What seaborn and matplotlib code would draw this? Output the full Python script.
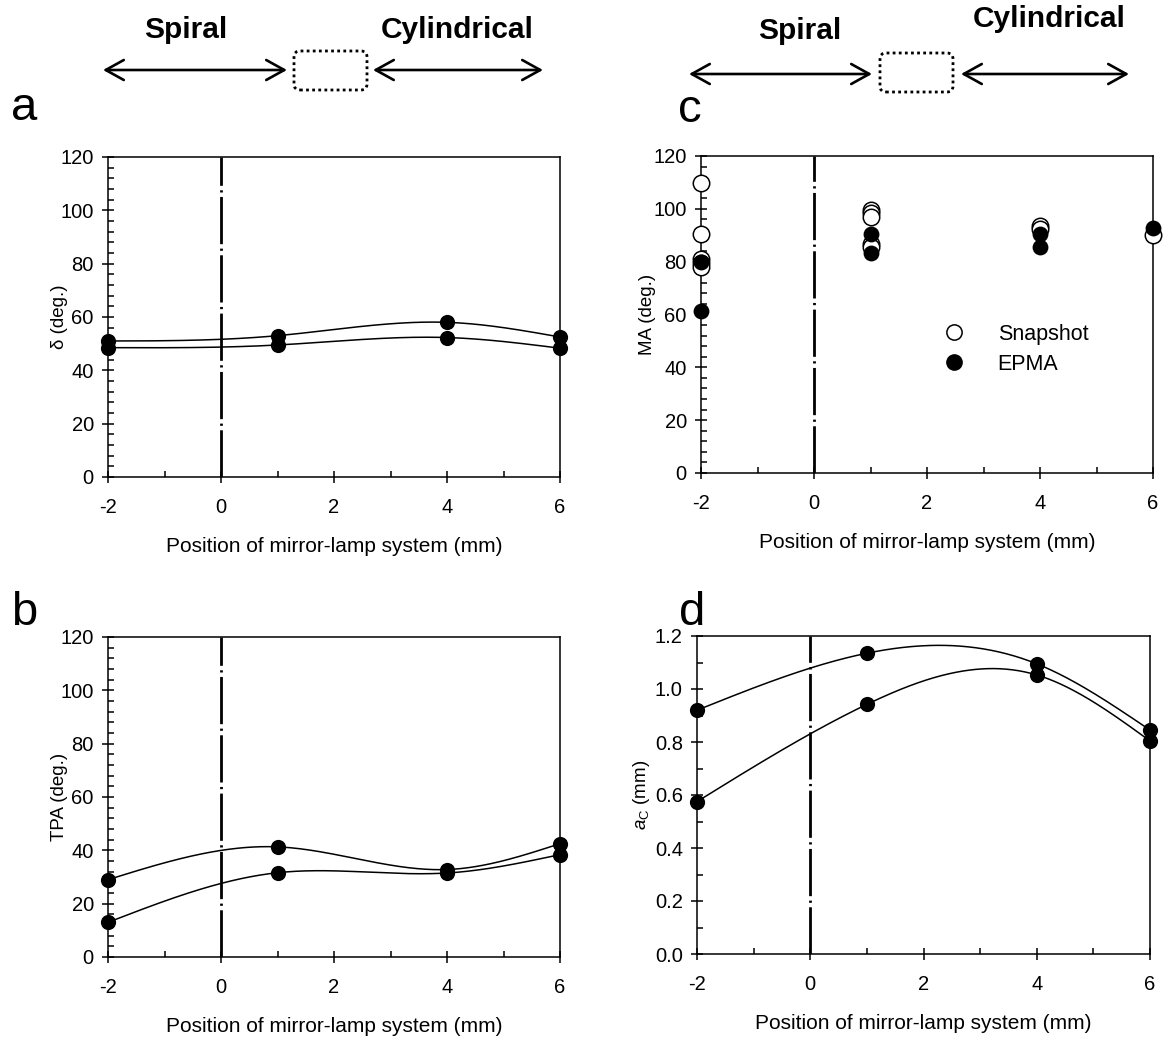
import numpy as np
import pandas as pd
import matplotlib
matplotlib.use("Agg")
import matplotlib.pyplot as plt
import seaborn as sns
from matplotlib.patches import FancyArrowPatch, FancyBboxPatch
from matplotlib.ticker import MultipleLocator
from matplotlib.lines import Line2D

# ---------------- data ----------------
positions = [-2, 1, 4, 6]
delta_upper = [51.0, 53.0, 58.0, 52.5]
delta_lower = [48.5, 49.5, 52.3, 48.3]
tpa_upper = [29.0, 41.3, 32.8, 42.5]
tpa_lower = [13.0, 31.6, 31.5, 38.4]
ac_upper = [0.92, 1.135, 1.095, 0.845]
ac_lower = [0.575, 0.942, 1.053, 0.804]

ma_snap_x = [-2, -2, -2, -2, -2, 1, 1, 1, 1, 1, 4, 4, 6]
ma_snap_y = [109.8, 90.5, 81.0, 79.5, 77.8, 99.5, 98.3, 96.8, 86.8, 85.6, 93.6, 92.2, 90.2]
ma_epma_x = [-2, -2, 1, 1, 4, 4, 6]
ma_epma_y = [79.8, 61.2, 90.4, 83.4, 90.4, 85.5, 92.6]

xlabel = "Position of mirror-lamp system (mm)"
header_left = "Spiral"
header_right = "Cylindrical"

# ---------------- style ----------------
sns.set_style("ticks")
plt.rcParams["font.family"] = ["Liberation Sans", "DejaVu Sans"]
plt.rcParams["mathtext.fontset"] = "custom"
plt.rcParams["mathtext.rm"] = "Liberation Sans"
plt.rcParams["mathtext.it"] = "Liberation Sans:italic"
plt.rcParams["axes.linewidth"] = 1.1
plt.rcParams["axes.edgecolor"] = "black"
plt.rcParams["axes.unicode_minus"] = False
for k in ("text.color", "axes.labelcolor", "xtick.color", "ytick.color"):
    plt.rcParams[k] = "black"

W, H = 1165, 1040
fig = plt.figure(figsize=(W / 100, H / 100), dpi=100)


def natural_spline(x, y, xs):
    x = np.asarray(x, float)
    y = np.asarray(y, float)
    n = len(x)
    h = np.diff(x)
    A = np.zeros((n, n))
    b = np.zeros(n)
    A[0, 0] = 1
    A[-1, -1] = 1
    for i in range(1, n - 1):
        A[i, i - 1] = h[i - 1]
        A[i, i] = 2 * (h[i - 1] + h[i])
        A[i, i + 1] = h[i]
        b[i] = 6 * ((y[i + 1] - y[i]) / h[i] - (y[i] - y[i - 1]) / h[i - 1])
    M = np.linalg.solve(A, b)
    out = np.empty_like(xs)
    for k, xv in enumerate(xs):
        i = min(np.searchsorted(x, xv, side="right") - 1, n - 2)
        i = max(i, 0)
        t1 = x[i + 1] - xv
        t0 = xv - x[i]
        out[k] = (M[i] * t1 ** 3 + M[i + 1] * t0 ** 3) / (6 * h[i]) \
            + (y[i] / h[i] - M[i] * h[i] / 6) * t1 \
            + (y[i + 1] / h[i] - M[i + 1] * h[i] / 6) * t0
    return out


def ax_px(l, t, r, b):
    return fig.add_axes([l / W, 1 - b / H, (r - l) / W, (b - t) / H])


def style_axis(ax, ymax, ymajor, yminor, fmt=None):
    ax.set_xlim(-2, 6)
    ax.set_ylim(0, ymax)
    ax.xaxis.set_major_locator(MultipleLocator(2))
    ax.xaxis.set_minor_locator(MultipleLocator(1))
    ax.yaxis.set_major_locator(MultipleLocator(ymajor))
    ax.yaxis.set_minor_locator(MultipleLocator(yminor))
    ax.tick_params(which="major", direction="inout", length=8.5, width=1.1,
                   labelsize=14.5, color="black", labelcolor="black")
    ax.tick_params(axis="x", which="major", pad=11)
    ax.tick_params(axis="y", which="major", pad=6)
    ax.tick_params(which="minor", direction="in", length=4, width=1.1, color="black")
    if fmt:
        ax.yaxis.set_major_formatter(matplotlib.ticker.FormatStrFormatter(fmt))
    for s in ax.spines.values():
        s.set_visible(True)
        s.set_linewidth(1.1)
        s.set_color("black")
    ax.axvline(0, color="black", lw=2.0, linestyle=(0, (17, 1.6, 0.8, 1.6)), zorder=1)
    ax.set_xlabel(xlabel, fontsize=15, labelpad=14, color="black")


def curves(ax, ys_list):
    xs = np.linspace(-2, 6, 300)
    for ys in ys_list:
        df = pd.DataFrame({"x": xs, "y": natural_spline(positions, ys, xs)})
        sns.lineplot(data=df, x="x", y="y", ax=ax, color="black", lw=1.1,
                     estimator=None, sort=False, zorder=2)
        sns.scatterplot(x=positions, y=ys, ax=ax, color="black", s=120,
                        edgecolor="black", linewidth=0, zorder=4, clip_on=False)


# panel a
ax_a = ax_px(108, 157, 560, 477)
curves(ax_a, [delta_upper, delta_lower])
style_axis(ax_a, 120, 20, 4)
ax_a.set_ylabel("δ (deg.)", fontsize=13.5)
ax_a.yaxis.set_label_coords(-0.088, 0.5)

# panel b
ax_b = ax_px(108, 637, 560, 957)
curves(ax_b, [tpa_upper, tpa_lower])
style_axis(ax_b, 120, 20, 4)
ax_b.set_ylabel("TPA (deg.)", fontsize=13.5)
ax_b.yaxis.set_label_coords(-0.088, 0.5)

# panel c
ax_c = ax_px(701, 156, 1153, 473)
sns.scatterplot(x=ma_snap_x, y=ma_snap_y, ax=ax_c, color="white", s=140,
                edgecolor="black", linewidth=1.1, zorder=3, clip_on=False)
sns.scatterplot(x=ma_epma_x, y=ma_epma_y, ax=ax_c, color="black", s=130,
                edgecolor="black", linewidth=0, zorder=4, clip_on=False)
style_axis(ax_c, 120, 20, 4)
ax_c.set_ylabel("MA (deg.)", fontsize=13.5)
ax_c.yaxis.set_label_coords(-0.099, 0.5)
handles = [Line2D([], [], ls="none", marker="o", ms=11, mfc="white", mec="black", mew=1.1),
           Line2D([], [], ls="none", marker="o", ms=11, mfc="black", mec="black")]
ax_c.legend(handles, ["Snapshot", "EPMA"], loc="upper left",
            bbox_to_anchor=(0.535, 0.47), frameon=False, fontsize=15.5,
            handlelength=1.0, handletextpad=1.55, labelspacing=0.4,
            borderpad=0, borderaxespad=0)

# panel d
ax_d = ax_px(697, 636, 1150, 954)
curves(ax_d, [ac_upper, ac_lower])
style_axis(ax_d, 1.2, 0.2, 0.1, fmt="%.1f")
ax_d.set_ylabel(r"$a_{\mathrm{C}}$ (mm)", fontsize=13.5)
ax_d.yaxis.set_label_coords(-0.1, 0.5)

# panel letters
for letter, (x, y) in {"a": (24, 108), "b": (24, 613), "c": (690, 110), "d": (692, 613)}.items():
    fig.text(x / W, 1 - y / H, letter, fontsize=34, ha="center", va="center")


# header annotations
def header(x_sp, y_sp, x_cy, y_cy, arr1, arr2, box, y_arr):
    fig.text(x_sp / W, 1 - y_sp / H, header_left, fontsize=21.5, fontweight="bold",
             ha="center", va="center")
    fig.text(x_cy / W, 1 - y_cy / H, header_right, fontsize=21.5, fontweight="bold",
             ha="center", va="center")
    for (x0, x1) in (arr1, arr2):
        a = FancyArrowPatch((x0 / 100, (H - y_arr) / 100), (x1 / 100, (H - y_arr) / 100),
                            transform=fig.dpi_scale_trans,
                            arrowstyle="<->,head_length=0.65,head_width=0.36",
                            mutation_scale=20, lw=1.9, color="black",
                            shrinkA=0, shrinkB=0)
        fig.add_artist(a)
    bx0, by0, bx1, by1 = box
    p = FancyBboxPatch((bx0 / 100, (H - by1) / 100), (bx1 - bx0) / 100, (by1 - by0) / 100,
                       boxstyle="round,pad=0,rounding_size=0.06",
                       transform=fig.dpi_scale_trans, fill=False, lw=2.0,
                       linestyle=(0, (1, 1.2)), edgecolor="black")
    fig.add_artist(p)


header(186, 30, 457, 30, (103, 287), (373, 543), (294, 51, 367, 90), 70)
header(800, 31, 1049, 19, (689, 872), (961, 1129), (880, 53, 953, 92), 74)

fig.savefig("out.png", dpi=100)
